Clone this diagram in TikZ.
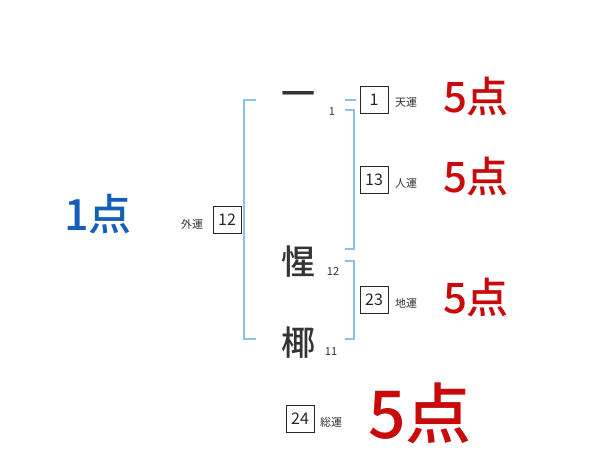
\documentclass[tikz,border=0pt]{standalone}
\usepackage{fontspec}
\setmainfont{Noto Sans CJK JP}
\newfontfamily\boldcjk{Noto Sans CJK JP}[UprightFont=* Bold]
\newfontfamily\medcjk{Noto Sans CJK JP}[UprightFont=* Medium]
\definecolor{brk}{RGB}{140,195,228}
\definecolor{pred}{RGB}{200,10,10}
\definecolor{pblue}{RGB}{20,95,185}
\begin{document}
\begin{tikzpicture}[x=1pt,y=-1pt,
  kanji/.style={font=\medcjk\fontsize{34}{34}\selectfont,text=black!80,inner sep=0pt},
  stroke/.style={font=\fontsize{11}{11}\selectfont,text=black!80,inner sep=0pt},
  numbox/.style={draw=black!85,line width=0.7pt,minimum width=28pt,minimum height=27pt,inner sep=0pt,font=\fontsize{16}{16}\selectfont,text=black!85},
  unlabel/.style={font=\fontsize{11}{11}\selectfont,text=black!80,inner sep=0pt},
  score/.style={font=\medcjk\fontsize{42}{42}\selectfont,text=pred,inner sep=0pt},
  bigscore/.style={font=\medcjk\fontsize{66}{66}\selectfont,text=pred,inner sep=0pt},
  brkline/.style={draw=brk,line width=2.2pt}]
\useasboundingbox (0,0) rectangle (600,470);
% left bracket
\coordinate (lt) at (256,100);
\coordinate (lb) at (256,339);
\draw[brkline] (lt) -- (244,100) -- (244,339) -- (lb);
% right brackets
\coordinate (t1) at (345,100);
\coordinate (t2) at (356,100);
\draw[brkline] (t1) -- (t2);
\coordinate (ja) at (345,110);
\coordinate (jb) at (345,249);
\draw[brkline] (ja) -- (354,110) -- (354,249) -- (jb);
\coordinate (ca) at (345,261);
\coordinate (cb) at (345,339);
\draw[brkline] (ca) -- (354,261) -- (354,339) -- (cb);
% name characters
\node[kanji] (k1) at (298,99) {一};
\node[kanji] (k2) at (298,262) {惺};
\node[kanji] (k3) at (298,343) {椰};
\node[stroke] (s1) at (332,112) {1};
\node[stroke] (s2) at (333,272) {12};
\node[stroke] (s3) at (331,352) {11};
% outer
\node[unlabel] (gl) at (192,224) {外運};
\node[numbox] (gb) at (227,220) {12};
% right boxes
\node[numbox] (tb) at (374,100) {1};
\node[unlabel,anchor=west] (tl) at (395,102) {天運};
\node[numbox] (jbx) at (374,180) {13};
\node[unlabel,anchor=west] (jl) at (395,183) {人運};
\node[numbox] (cbx) at (374,300) {23};
\node[unlabel,anchor=west] (cl) at (395,303) {地運};
\node[numbox] (sbx) at (300,419) {24};
\node[unlabel,anchor=west] (sl) at (320,422) {総運};
% scores
\node[score] (sc1) at (476,97) {5点};
\node[score] (sc2) at (476,177) {5点};
\node[score] (sc3) at (476,297) {5点};
\node[bigscore] (sc4) at (420,413) {5点};
\node[font=\medcjk\fontsize{43}{43}\selectfont,text=pblue,inner sep=0pt] (gs) at (98,214) {1点};
\end{tikzpicture}
\end{document}
